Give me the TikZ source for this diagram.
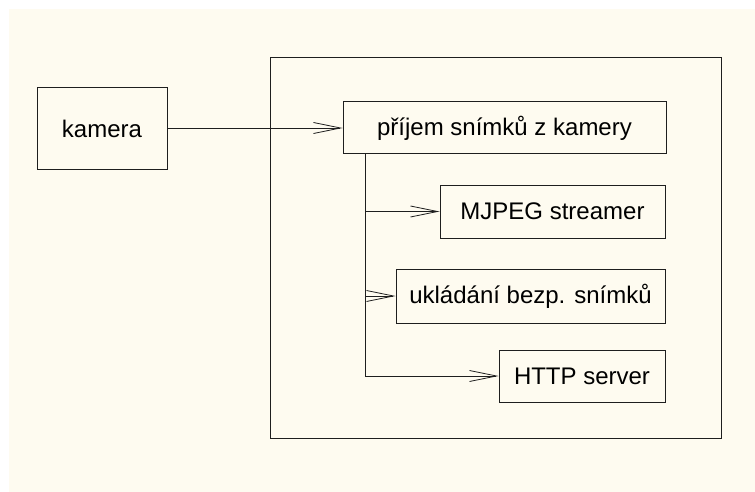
\documentclass[tikz,border=0pt]{standalone}
\usepackage{fontspec}
\setmainfont{Liberation Sans}
\usetikzlibrary{arrows.meta}
\definecolor{cream}{RGB}{254,251,240}
\definecolor{ink}{RGB}{30,30,30}
\tikzset{
  box/.style={draw=ink, line width=1pt, fill=cream, inner sep=0pt, font=\fontsize{24}{28}\selectfont},
  conn/.style={draw=ink, line width=0.8pt, -{Straight Barb[length=27pt,width=11pt,line width=0.8pt]}},
  plain/.style={draw=ink, line width=0.8pt}
}
\begin{document}
\begin{tikzpicture}[x=1pt,y=-1pt]
\useasboundingbox (0,0) rectangle (755,492);
\fill[white] (0,0) rectangle (755,492);
\fill[cream] (9,9) rectangle (755,492);
\draw[ink, line width=1pt] (270,58) rectangle (721,438);
\node[box, minimum width=130pt, minimum height=81pt] (kamera) at (102,128.5) {kamera};
\node[box, minimum width=323pt, minimum height=52pt] (prijem) at (504.5,128) {příjem snímků z kamery};
\node[box, minimum width=225pt, minimum height=53pt] (mjpeg) at (552.5,211.5) {MJPEG streamer};
\node[box, minimum width=269pt, minimum height=54pt] (uklad) at (530.5,296) {ukládání bezp. snímků};
\node[box, minimum width=166pt, minimum height=52pt] (http) at (582,376) {HTTP server};
\coordinate (t0) at (365,154);
\draw[conn] (kamera.east |- prijem.west) -- (prijem.west);
\draw[plain] (t0) -- (t0 |- http.west);
\draw[conn] (t0 |- mjpeg.west) -- (mjpeg.west);
\draw[conn] (t0 |- uklad.west) -- (uklad.west);
\draw[conn] (t0 |- http.west) -- (http.west);
\end{tikzpicture}
\end{document}
